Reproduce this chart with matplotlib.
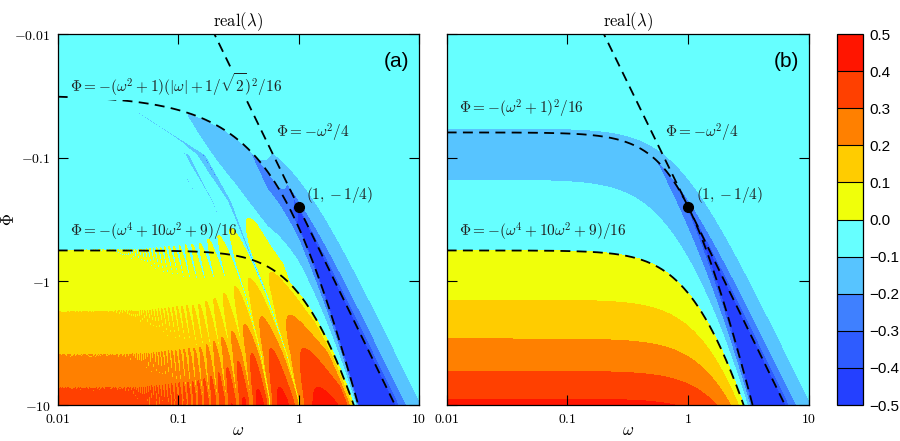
import numpy as np
import matplotlib
matplotlib.use('Agg')
import matplotlib.pyplot as plt
from matplotlib.colors import ListedColormap, BoundaryNorm

plt.rcParams.update({
    'mathtext.fontset': 'cm',
    'font.family': 'serif',
    'font.size': 10,
})

# colour bands of the colour bar, bottom to top
levels = np.round(np.linspace(-0.5, 0.5, 11), 1)
band_colors = ['#2440ff', '#2e5cff', '#3f80ff', '#57c4ff', '#66ffff',
               '#f0ff0a', '#ffcc00', '#ff8000', '#ff4000', '#ff1500']

xticks = [0.01, 0.1, 1, 10]
xticklabels = [r'$0.01$', r'$0.1$', r'$1$', r'$10$']
yticks = [0.01, 0.1, 1, 10]          # plotted as -Phi
yticklabels = [r'$-0.01$', r'$-0.1$', r'$-1$', r'$-10$']

# the main thin resonance line (-Phi, omega)
line_p = np.array([0.036, 0.0496, 0.095, 0.227, 0.51, 1.29, 3.93, 9.1, 12.0])
line_w = np.array([0.035, 0.058, 0.162, 0.27, 0.37, 0.545, 0.80, 1.0, 1.03])
# relative spacing of the neighbouring lines
spacing_p = np.array([0.04, 0.5, 2.0, 10.0])
spacing_d = np.array([0.37, 0.40, 0.55, 0.75])
# height of the tongue tips
top_w = np.array([0.01, 0.05, 0.15, 0.21, 0.45, 0.6, 10.0])
top_p = np.array([0.56, 0.55, 0.49, 0.43, 0.28, 0.27, 0.27])
# growth of real(lambda) with -Phi at small omega
growth_q = np.array([0.01, 0.3, 0.5625, 1.76, 3.94, 7.3, 13.0, 25.0])
growth_v = np.array([-0.04, -0.03, 0.0, 0.1, 0.2, 0.3, 0.38, 0.47])
# colour and width (decades of omega) of the main line from top to bottom
dip_p = np.array([0.04, 0.5, 2.0, 10.0])
dip_v = np.array([-0.27, -0.22, -0.16, -0.14])
dip_wd = np.array([0.013, 0.010, 0.008, 0.006])
# depth of the shell band against omega, below and above the upper curve
taper_w = np.array([0.07, 0.12, 0.3, 0.55, 1.0])
taper_v = np.array([0.0, 0.7, 1.05, 1.35, 1.0])
above_w = np.array([0.3, 0.6, 1.0])
above_v = np.array([0.0, 1.0, 1.0])

w1 = np.logspace(-2, 1, 1400)
p1 = np.logspace(-2, 1, 700)
W, P = np.meshgrid(w1, p1)


def quartic_growth(w, p):
    # largest real part of the roots of lam(lam+1)((2lam+1)^2+w^2) = Phi
    r = np.sqrt((4 * p - w ** 2).astype(complex))
    zp = 1 - w ** 2 + 2 * r
    zm = 1 - w ** 2 - 2 * r
    return -0.5 + (np.sqrt(zp).real + np.sqrt(zm).real) / 4


def curves(w):
    L = w ** 2 / 4
    B1 = (w ** 2 + 1) ** 2 / 16
    B1a = (w ** 2 + 1) * (np.abs(w) + 1 / np.sqrt(2)) ** 2 / 16
    B2 = (w ** 4 + 10 * w ** 2 + 9) / 16
    return L, B1, B1a, B2


# ---- panel (b)
Zb = quartic_growth(W, P)

# ---- panel (a)
L, B1, B1a, B2 = curves(W)
lp, lL, l1, l1a, l2 = np.log(P), np.log(L), np.log(B1), np.log(B1a), np.log(B2)
lq = lp.copy()
s1 = (lp > lL) & (lp <= l1a)
s2 = (lp > l1a) & (lp <= l2)
with np.errstate(divide='ignore', invalid='ignore'):
    m1 = lL + (lp - lL) * (l1 - lL) / (l1a - lL)
    frac = np.clip((lp - l1a) / (l2 - l1a), 0, 1)
    m2 = l1 + frac ** 0.8 * (l2 - l1)
lq[s1] = m1[s1]
lq[s2] = m2[s2]
base = quartic_growth(W, np.exp(lq))
lw10 = np.log10(W)
taper = np.where(P > B1a,
                 np.interp(lw10, np.log10(taper_w), taper_v),
                 np.interp(lw10, np.log10(above_w), above_v))
base_neg = np.minimum(base, 0) * taper
base_neg = np.where(base < -0.45, base, base_neg)

Wl = np.exp(np.interp(np.log(p1), np.log(line_p), np.log(line_w)))[:, None]
dl = np.interp(np.log(p1), np.log(spacing_p), spacing_d)[:, None]
theta = np.pi * (Wl / W - 1) / dl
theta[P < line_p[0]] = -10.0

ptop = np.exp(np.interp(np.log(w1), np.log(top_w), np.log(top_p)))[None, :]
env = np.interp(np.log(P * 0.5625 / ptop).ravel(), np.log(growth_q),
                growth_v).reshape(P.shape)

a, c = 0.062, 0.6
S = np.abs(np.sin(theta))
lob = env * (c + (1 - c) * S) - a * (1 - S)
m = np.clip((lw10 + 2) / 0.35, 0, 1)
lobes = m * lob + (1 - m) * env
left = np.where(lobes > 0, lobes, 0.5 * np.minimum(lobes, 0) + base_neg)

h = np.interp(lw10, [np.log10(0.55), np.log10(0.85)], [0.3, 1.0])
cap = 2 * np.log10(P / (B2 * h))
mainl = np.where(theta > -np.pi, lob, -1.0)
mainl = np.minimum(mainl, cap)
right = np.where(mainl > 0, mainl, base_neg)

Za = np.where(theta >= 0, left, right)

# thin resonance lines, width given in decades of omega
k = np.round(theta / np.pi)
d = theta / np.pi - k
rate = np.pi * (Wl / W) * np.log(10) / dl          # d theta / d log10(omega)
wd0 = np.interp(np.log(P), np.log(dip_p), dip_wd)
eps = np.minimum(np.where(k == 0, wd0, 0.007) * rate, 0.3)
G = np.exp(-(np.pi * d / eps) ** 2)
strength = np.where(k == 0, 1.0,
           np.where(k == 1, 0.9,
           np.where(k >= 2, 0.8 * np.clip(1 - env / 0.06, 0, 1) * m, 0.0)))
fade_top = np.clip((np.log10(P) - np.log10(B1a * 1.05)) / 0.1, 0, 1)
target = np.where(k == 0, np.interp(np.log(P), np.log(dip_p), dip_v), -0.13)
G = G * strength * fade_top
Za = Za * (1 - G) + G * target

Za = np.clip(Za, -0.499, 0.499)
Zb = np.clip(Zb, -0.499, 0.499)

cmap = ListedColormap(band_colors)
norm = BoundaryNorm(levels, cmap.N)

fig = plt.figure(figsize=(9, 4.41), dpi=100)
ax_a = fig.add_axes([0.0641, 0.0816, 0.4014, 0.8413])
ax_b = fig.add_axes([0.4963, 0.0816, 0.4026, 0.8413])
cax = fig.add_axes([0.9297, 0.0816, 0.0296, 0.8413])

wl = np.logspace(-2, 1, 400)
Lc, B1c, B1ac, B2c = curves(wl)
dash = dict(color='black', lw=1.3, dashes=(5.5, 3.5), zorder=5)
txt = dict(fontsize=11, color='#222222', ha='left', va='center', zorder=6)
cyan_box = dict(facecolor=band_colors[4], edgecolor='none', pad=1.5)

for ax, Z, upper, upper_lab, tag in [
        (ax_a, Za, B1ac, r'$\Phi = -(\omega^2+1)(|\omega|+1/\sqrt{2})^2/16$', '(a)'),
        (ax_b, Zb, B1c, r'$\Phi = -(\omega^2+1)^2/16$', '(b)')]:
    cs = ax.contourf(W, P, Z, levels=levels, cmap=cmap, norm=norm)
    ax.plot(wl, upper, **dash)
    ax.plot(wl, B2c, **dash)
    ax.plot(wl, Lc, **dash)
    ax.plot([1], [0.25], 'o', color='black', ms=7, zorder=7)
    ax.set_xscale('log')
    ax.set_yscale('log')
    ax.set_xlim(0.01, 10)
    ax.set_ylim(10, 0.01)
    ax.set_xticks(xticks)
    ax.set_xticklabels(xticklabels)
    ax.set_yticks(yticks)
    ax.minorticks_off()
    ax.tick_params(direction='in', top=True, right=True, length=7,
                   width=0.8, labelsize=10, pad=5)
    ax.set_title(r'$\mathrm{real}(\lambda)$', fontsize=12, pad=6)
    ax.set_xlabel(r'$\omega$', fontsize=12)
    ax.xaxis.set_label_coords(0.5, -0.045)
    ax.text(0.0126, 0.0254 if tag == '(a)' else 0.040, upper_lab,
            bbox=cyan_box, **txt)
    ax.text(0.645, 0.0635, r'$\Phi = -\omega^2/4$', **txt)
    ax.text(1.15, 0.20, r'$(1, -1/4)$', **txt)
    ax.text(0.0126, 0.396, r'$\Phi = -(\omega^4+10\omega^2+9)/16$', **txt)
    ax.text(0.938, 0.925, tag, transform=ax.transAxes, ha='center', va='center',
            fontsize=15, family='Liberation Sans', zorder=6)
    for sp in ax.spines.values():
        sp.set_linewidth(0.9)

ax_a.set_yticklabels(yticklabels)
ax_a.set_ylabel(r'$\Phi$', fontsize=12)
ax_a.yaxis.set_label_coords(-0.11, 0.5)
ax_b.set_yticklabels([])

cb = fig.colorbar(cs, cax=cax, ticks=levels, drawedges=True)
cb.ax.set_yticklabels([f'{v:.1f}'.replace('-', '\u2212') for v in levels],
                      family='Liberation Sans', fontsize=11)
cb.ax.tick_params(length=0, pad=4)
cb.outline.set_linewidth(0.9)
cb.dividers.set_color('black')
cb.dividers.set_linewidth(0.8)

fig.savefig('out.png', dpi=100)
